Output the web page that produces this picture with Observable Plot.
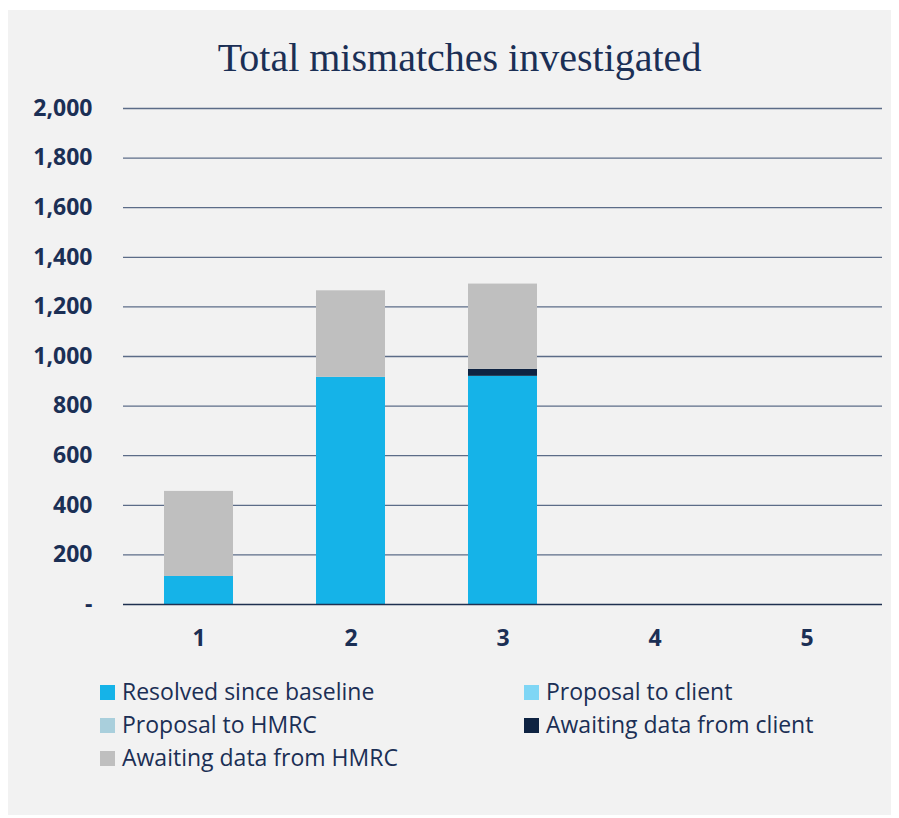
<!DOCTYPE html>
<html>
<head>
<meta charset="utf-8">
<script src="https://cdn.jsdelivr.net/npm/d3@7"></script>
<script src="https://cdn.jsdelivr.net/npm/@observablehq/plot@0.6"></script>
<style>
  html, body { margin: 0; padding: 0; background: #ffffff; }
  #panel { position: absolute; left: 8px; top: 10px; width: 883px; height: 805px; background: #f2f2f2; }
  #title { position: absolute; left: 0; width: 903px; top: 25px; text-align: center; line-height: 46px;
           font-family: "Liberation Serif", serif; font-size: 40px; color: #1b2f55; }
  #chart { position: absolute; left: 0; top: 80px; }
  .leg { position: absolute; font-family: "Open Sans", sans-serif; font-size: 23px; line-height: 30px; color: #1b2f55; white-space: nowrap; }
  .leg span.sw { display: inline-block; width: 15px; height: 15px; margin-right: 7px; vertical-align: 0px; }
</style>
</head>
<body>
<div id="panel">
  <div id="title">Total mismatches investigated</div>
  <div id="chart"></div>
  <div id="legend"></div>
</div>
<script>
const categories = ["1", "2", "3", "4", "5"];
const seriesNames = ["Resolved since baseline", "Proposal to client", "Proposal to HMRC", "Awaiting data from client", "Awaiting data from HMRC"];
const seriesColors = ["#15b3e8", "#7fd6f5", "#a9cfdc", "#0e2342", "#bfbfbf"];
const resolved      = [113, 916, 920, 0, 0];
const proposalClient = [0, 0, 0, 0, 0];
const proposalHMRC   = [0, 0, 0, 0, 0];
const awaitingClient = [0, 0, 28, 0, 0];
const awaitingHMRC   = [343, 349, 344, 0, 0];
const yTicks = [0, 200, 400, 600, 800, 1000, 1200, 1400, 1600, 1800, 2000];

const seriesValues = [resolved, proposalClient, proposalHMRC, awaitingClient, awaitingHMRC];
const data = [];
seriesNames.forEach((s, si) => categories.forEach((c, ci) => data.push({cat: c, series: s, value: seriesValues[si][ci]})));

const fmt = d => d === 0 ? "-" : d3.format(",")(d);

const plot = Plot.plot({
  width: 883,
  height: 580,
  marginLeft: 115,
  marginRight: 9,
  marginTop: 18,
  marginBottom: 66,
  style: {background: "transparent", fontFamily: "'Open Sans', sans-serif"},
  x: {domain: categories, paddingInner: 0.545, paddingOuter: 0.26, label: null},
  y: {domain: [0, 2000], label: null},
  color: {domain: seriesNames, range: seriesColors},
  marks: [
    Plot.ruleY(yTicks.filter(d => d > 0), {stroke: "#5c6c88", strokeWidth: 1.3, strokeOpacity: 1}),
    Plot.barY(data, Plot.stackY({x: "cat", y: "value", fill: "series", order: seriesNames})),
    Plot.ruleY([0], {stroke: "#1f3050", strokeWidth: 1.6, strokeOpacity: 1}),
    Plot.axisY({ticks: yTicks, tickFormat: fmt, tickSize: 0, tickPadding: 31, fontSize: 23, fontWeight: "bold", fill: "#1b2f55", label: null}),
    Plot.axisX({tickSize: 0, tickPadding: 25, fontSize: 23, fontWeight: "bold", fill: "#1b2f55", label: null})
  ]
});
document.getElementById("chart").appendChild(plot);

const legend = document.getElementById("legend");
const pos = [[92, 666], [516, 666], [92, 699], [516, 699], [92, 732]];
seriesNames.forEach((s, i) => {
  const d = document.createElement("div");
  d.className = "leg";
  d.style.left = pos[i][0] + "px";
  d.style.top = pos[i][1] + "px";
  d.innerHTML = `<span class="sw" style="background:${seriesColors[i]}"></span>${s}`;
  legend.appendChild(d);
});
</script>
</body>
</html>
